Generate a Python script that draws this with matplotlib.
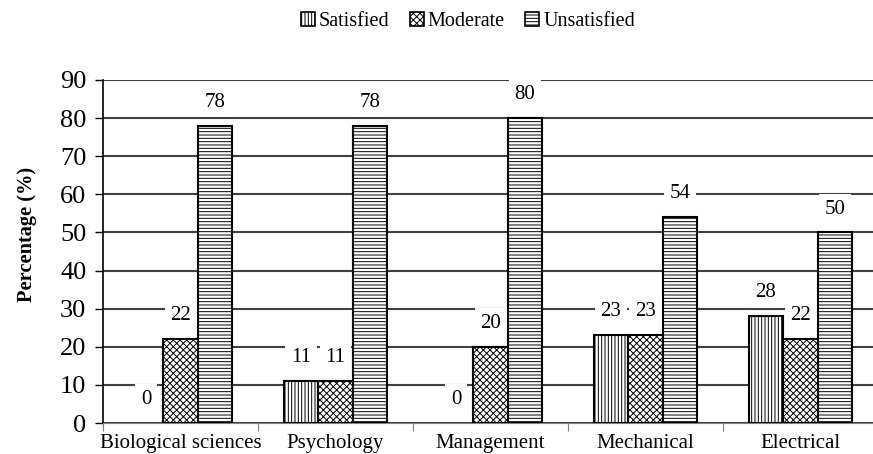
import matplotlib
matplotlib.use("Agg")
import matplotlib.pyplot as plt
import numpy as np
from matplotlib.patches import Patch

categories = ["Biological sciences", "Psychology", "Management", "Mechanical", "Electrical"]
satisfied = [0, 11, 0, 23, 28]
moderate = [22, 11, 20, 23, 22]
unsatisfied = [78, 78, 80, 54, 50]
series_names = ["Satisfied", "Moderate", "Unsatisfied"]
yticks = [0, 10, 20, 30, 40, 50, 60, 70, 80, 90]

plt.rcParams['font.family'] = ['Liberation Serif', 'DejaVu Serif']
plt.rcParams['hatch.linewidth'] = 0.7

fig = plt.figure(figsize=(8.73, 4.54), dpi=100)
ax = fig.add_axes([103/873, 31/454, 775/873, 343/454])

x = np.arange(len(categories))
w = 0.2226
hatches = ['|||||', 'xxxxx', '-----']
data = [satisfied, moderate, unsatisfied]
for i, (vals, h, name) in enumerate(zip(data, hatches, series_names)):
    lws = [1.5 if v > 0 else 0 for v in vals]
    ax.bar(x + (i - 1) * w, vals, w, color='white', edgecolor='black',
           linewidth=lws, hatch=h, label=name, zorder=3)
    for xi, v in zip(x + (i - 1) * w, vals):
        ax.annotate(str(v), (xi, v), xytext=(0, 10), textcoords='offset points',
                    ha='center', va='bottom', fontsize=15,
                    bbox=dict(facecolor='white', edgecolor='none', pad=4), zorder=4)

ax.set_xlim(-0.5, 4.5)
ax.set_ylim(0, 90)
ax.set_yticks(yticks)
ax.tick_params(axis='y', labelsize=19, length=6, width=1, direction='out', pad=6)
ax.yaxis.grid(True, color='#404040', linewidth=1.5, zorder=0)
ax.set_axisbelow(True)
ax.set_xticks(np.arange(-0.5, 4.6, 1.0))
ax.set_xticklabels([])
ax.set_xticks(x, minor=True)
ax.set_xticklabels(categories, minor=True, fontsize=15)
ax.tick_params(axis='x', which='major', length=6, color='#808080', direction='out')
ax.tick_params(axis='x', which='minor', length=0, pad=8)
for s in ['top', 'right']:
    ax.spines[s].set_visible(False)
ax.spines['bottom'].set_color('#808080')
ax.spines['left'].set_color('black')
ax.spines['left'].set_linewidth(1.2)
ax.set_ylabel("Percentage (%)", fontsize=14.7, fontweight='bold')
ax.yaxis.set_label_coords(-0.085, 0.55)

handles = [Patch(facecolor='white', edgecolor='black', hatch=h, linewidth=1.2) for h in hatches]
fig.legend(handles, series_names, loc='center', bbox_to_anchor=(0.536, 0.953), ncol=3,
           frameon=False, fontsize=14.5, handlelength=0.7, handleheight=0.7,
           handletextpad=0.2, columnspacing=1.0)

fig.savefig("out.png", dpi=100)
